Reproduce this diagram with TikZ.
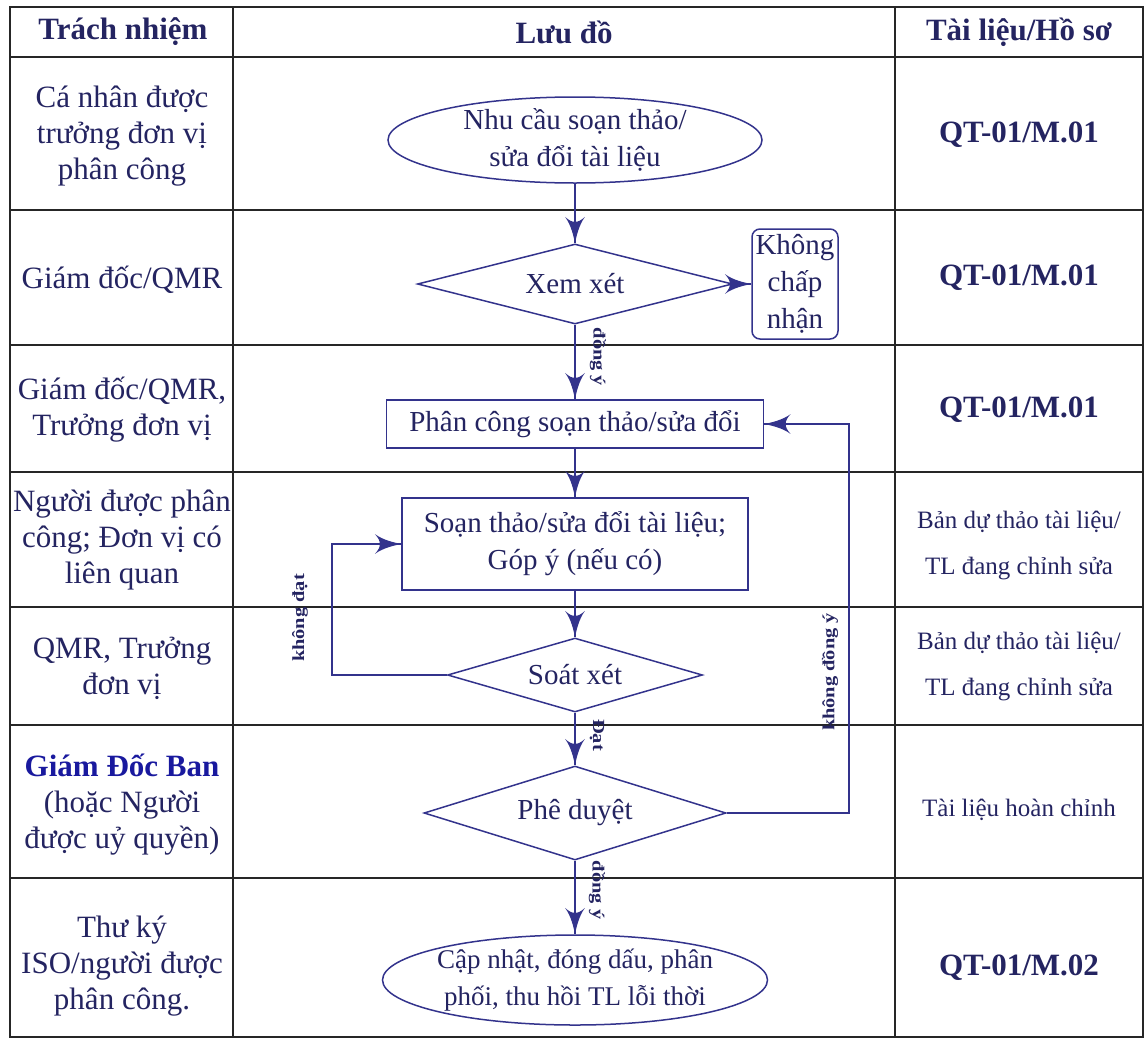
\documentclass[tikz,border=0pt]{standalone}
\usepackage{fontspec}
\setmainfont{Liberation Serif}
\usetikzlibrary{arrows}
\usetikzlibrary{decorations.markings}
\usetikzlibrary{shapes.geometric}
\usetikzlibrary{positioning}
\tikzset{->/.style = {decoration={markings,
                                  mark=at position 1 with {\arrow[scale=3.6]{latex'}}},
                      postaction={decorate}}}
\definecolor{mtext}{rgb}{0.14, 0.14, 0.38}
\definecolor{mline}{rgb}{0.2, 0.2, 0.55}
\definecolor{mblue}{rgb}{0.1, 0.1, 0.62}
\tikzset{grid/.style = {draw=black!85, line width=1.5pt},
         cell/.style = {text=mtext, align=center, inner sep=0pt,
                        font=\fontsize{31}{36}\selectfont},
         head/.style = {cell, font=\fontsize{31}{34}\selectfont\bfseries},
         code/.style = {cell, font=\fontsize{31}{36}\selectfont\bfseries},
         note/.style = {cell, font=\fontsize{25}{46}\selectfont},
         flow/.style = {draw=mline, line width=1.5pt, text=mtext, align=center,
                        inner sep=0pt, font=\fontsize{29}{37}\selectfont},
         term/.style = {flow, ellipse, inner xsep=-14pt, inner ysep=-10pt},
         test/.style = {flow, diamond},
         proc/.style = {flow, rectangle},
         lbl/.style = {text=mtext, inner sep=0pt, font=\fontsize{17}{18}\selectfont\bfseries}}

\begin{document}
\begin{tikzpicture}[x=1pt, y=-1pt]
  \useasboundingbox (0,0) rectangle (1145,1039);
  % table
  \draw [grid] (10,7) rectangle (1143,1037);
  \draw [grid] (233,7) -- (233,1037);
  \draw [grid] (895,7) -- (895,1037);
  \foreach \y in {57,210,345,472,607,725,878}
    \draw [grid] (10,\y) -- (1143,\y);
  % header
  \node [head] (hresp) at (123,32) {Trách nhiệm};
  \node [head] (hflow) at (564,32) {Lưu đồ};
  \node [head] (hdoc) at (1019,32) {Tài liệu/Hồ sơ};
  % responsibilities
  \node [cell] (resp1) at (122,136) {Cá nhân được\\trưởng đơn vị\\phân công};
  \node [cell] (resp2) at (122,280) {Giám đốc/QMR};
  \node [cell] (resp3) at (122,410) {Giám đốc/QMR,\\Trưởng đơn vị};
  \node [cell] (resp4) at (122,540) {Người được phân\\công; Đơn vị có\\liên quan};
  \node [cell] (resp5) at (122,668) {QMR, Trưởng\\đơn vị};
  \node [cell] (resp6) at (122,805) {{\color{mblue}\bfseries Giám Đốc Ban}\\(hoặc Người\\được uỷ quyền)};
  \node [cell] (resp7) at (122,966) {Thư ký\\ISO/người được\\phân công.};
  % documents
  \node [code] (doc1) at (1019,135) {QT-01/M.01};
  \node [code] (doc2) at (1019,278) {QT-01/M.01};
  \node [code] (doc3) at (1019,410) {QT-01/M.01};
  \node [note] (doc4) at (1019,545) {Bản dự thảo tài liệu/\\TL đang chỉnh sửa};
  \node [note] (doc5) at (1019,666) {Bản dự thảo tài liệu/\\TL đang chỉnh sửa};
  \node [note] (doc6) at (1019,810) {Tài liệu hoàn chỉnh};
  \node [code] (doc7) at (1019,968) {QT-01/M.02};
  % flow chart
  \node [term, minimum width=374pt, minimum height=86pt] (need) at (575,140)
        {Nhu cầu soạn thảo/\\sửa đổi tài liệu};
  \node [test, minimum width=315pt, minimum height=80pt, shape aspect=3.9] (review) at (575,284) {Xem xét};
  \node [proc, rounded corners=8pt, minimum width=86pt, minimum height=110pt] (reject) at (795,284)
        {Không\\chấp\\nhận};
  \node [proc, minimum width=377pt, minimum height=48pt] (assign) at (575,424)
        {Phân công soạn thảo/sửa đổi};
  \node [proc, minimum width=346pt, minimum height=92pt] (draft) at (575,544)
        {Soạn thảo/sửa đổi tài liệu;\\Góp ý (nếu có)};
  \node [test, minimum width=255pt, minimum height=74pt, shape aspect=3.4] (check) at (575,675) {Soát xét};
  \node [test, minimum width=302pt, minimum height=94pt, shape aspect=3.2] (approve) at (575,813) {Phê duyệt};
  \node [term, minimum width=385pt, minimum height=90pt, font=\fontsize{27}{37}\selectfont] (done) at (575,980)
        {Cập nhật, đóng dấu, phân\\phối, thu hồi TL lỗi thời};
  \draw [mline, line width=1.5pt, ->] (need) -- (review);
  \draw [mline, line width=1.5pt, ->] (review) -- (reject);
  \draw [mline, line width=1.5pt, ->] (review) -- (assign);
  \draw [mline, line width=1.5pt, ->] (assign) -- (draft);
  \draw [mline, line width=1.5pt, ->] (draft) -- (check);
  \draw [mline, line width=1.5pt, ->] (check.west) -- ++(-115,0) |- (draft.west);
  \draw [mline, line width=1.5pt, ->] (check) -- (approve);
  \draw [mline, line width=1.5pt, ->] (approve.east) -- ++(122,0) |- (assign.east);
  \draw [mline, line width=1.5pt, ->] (approve) -- (done);
  % branch labels
  \node [lbl, rotate=-90, xscale=1.2] (yes1) at (598,357) {đồng ý};
  \node [lbl, rotate=90, xscale=1.2] (fail) at (300,618) {không đạt};
  \node [lbl, rotate=-90, xscale=1.2] (pass) at (597,735) {Đạt};
  \node [lbl, rotate=90, xscale=1.2] (no2) at (830,672) {không đồng ý};
  \node [lbl, rotate=-90, xscale=1.2] (yes2) at (597,890) {đồng ý};
\end{tikzpicture}
\end{document}
